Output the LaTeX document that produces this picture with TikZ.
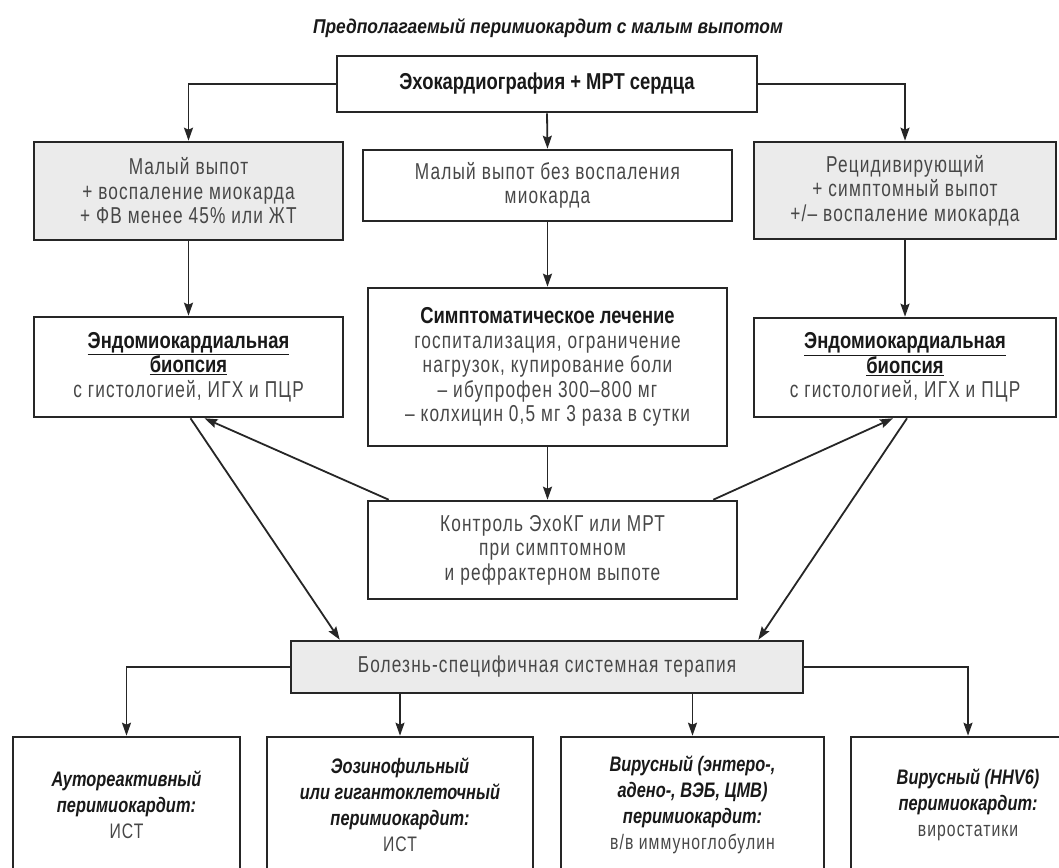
\documentclass[tikz,border=0pt]{standalone}
\usepackage{fontspec}
\setmainfont{Liberation Sans}[FakeStretch=0.75, LetterSpace=5]
\newfontfamily\hdfont{Liberation Sans}[FakeStretch=0.8]
\newfontfamily\itfont{Liberation Sans}[FakeStretch=0.78]
\newfontfamily\ttlfont{Liberation Sans}[FakeStretch=0.87]
\usetikzlibrary{arrows.meta,calc}

\begin{document}
\begin{tikzpicture}[x=1pt,y=-1pt,
  box/.style={draw=black!85, line width=2.6pt, fill=white, align=center,
    inner sep=0pt, text=black!72, font=\fontsize{23}{24.5}\selectfont},
  greybox/.style={box, fill=black!8},
  outbox/.style={box, font=\fontsize{21}{26}\selectfont},
  conn/.style={line width=1.8pt, draw=black!85,
    -{Stealth[length=13pt,width=9pt,inset=2pt]}},
]
\newcommand{\hd}[1]{{\hdfont\bfseries\color{black!90}#1}}
\newcommand{\hi}[1]{{\itfont\bfseries\itshape\color{black!90}#1}}

\useasboundingbox (0,0) rectangle (1059,867);
\fill[white] (0,0) rectangle (1059,867);
\clip (0,0) rectangle (1059,867);

% title
\node[text=black!90, font=\ttlfont\bfseries\itshape\fontsize{20}{24}\selectfont]
  (title) at (548,28) {Предполагаемый перимиокардит с малым выпотом};

% first level
\node[box, minimum width=420, minimum height=56] (top) at (547,84)
  {\hd{Эхокардиография + МРТ сердца}};

\node[greybox, minimum width=309, minimum height=98] (lbox) at (188.5,191)
  {Малый выпот\\+ воспаление миокарда\\+ ФВ менее 45\% или ЖТ};
\node[box, minimum width=369, minimum height=71] (mbox) at (547.5,185.5)
  {Малый выпот без воспаления\\миокарда};
\node[greybox, minimum width=302, minimum height=97] (rbox) at (905,190.5)
  {Рецидивирующий\\+ симптомный выпот\\+/– воспаление миокарда};

% second level
\node[box, minimum width=309, minimum height=100] (lbio) at (188.5,367)
  {\hd{\underline{Эндомиокардиальная}}\\\hd{\underline{биопсия}}\\с гистологией, ИГХ и ПЦР};
\node[box, minimum width=359, minimum height=158] (sym) at (547.5,367)
  {\hd{Симптоматическое лечение}\\госпитализация, ограничение\\нагрузок, купирование боли\\– ибупрофен 300–800 мг\\– колхицин 0,5 мг 3 раза в сутки};
\node[box, minimum width=302, minimum height=99] (rbio) at (905,367.5)
  {\hd{\underline{Эндомиокардиальная}}\\\hd{\underline{биопсия}}\\с гистологией, ИГХ и ПЦР};

\node[box, minimum width=369, minimum height=98] (ctrl) at (552.5,550)
  {Контроль ЭхоКГ или МРТ\\при симптомном\\и рефрактерном выпоте};

\node[greybox, minimum width=512, minimum height=52] (bol) at (547,667)
  {Болезнь-специфичная системная терапия};

% outcomes (boxes run past the lower edge)
\node[outbox, minimum width=227, minimum height=136] (b1) at (126.5,805)
  {\hi{Аутореактивный}\\\hi{перимиокардит:}\\ИСТ};
\node[outbox, minimum width=266, minimum height=136] (b2) at (400,805)
  {\hi{Эозинофильный}\\\hi{или гигантоклеточный}\\\hi{перимиокардит:}\\ИСТ};
\node[outbox, minimum width=263, minimum height=136] (b3) at (692.5,805)
  {\hi{Вирусный (энтеро-,}\\\hi{адено-, ВЭБ, ЦМВ)}\\\hi{перимиокардит:}\\в/в иммуноглобулин};
\node[outbox, minimum width=234, minimum height=136] (b4) at (968,805)
  {\hi{Вирусный (HHV6)}\\\hi{перимиокардит:}\\виростатики};

% connectors
\draw[conn] (top.west) -| (lbox.north);
\draw[conn] (top.south) -- (mbox.north);
\draw[conn] (top.east) -| (rbox.north);

\draw[conn] (lbox.south) -- (lbio.north);
\draw[conn] (mbox.south) -- (sym.north);
\draw[conn] (rbox.south) -- (rbio.north);

\draw[conn] (sym.south) -- (sym.south |- ctrl.north);

\draw[conn] ($(ctrl.north west)+(22,0)$) -- ($(lbio.south)+(16,0)$);
\draw[conn] ($(ctrl.north east)+(-25,0)$) -- ($(rbio.south)+(-12,0)$);

\draw[conn] ($(lbio.south)+(2,0)$) -- ($(bol.north west)+(50,0)$);
\draw[conn] ($(rbio.south)+(2,0)$) -- ($(bol.north east)+(-46,0)$);

\draw[conn] (bol.west) -| (b1.north);
\draw[conn] (b2.north |- bol.south) -- (b2.north);
\draw[conn] (b3.north |- bol.south) -- (b3.north);
\draw[conn] (bol.east) -| (b4.north);
\end{tikzpicture}
\end{document}
